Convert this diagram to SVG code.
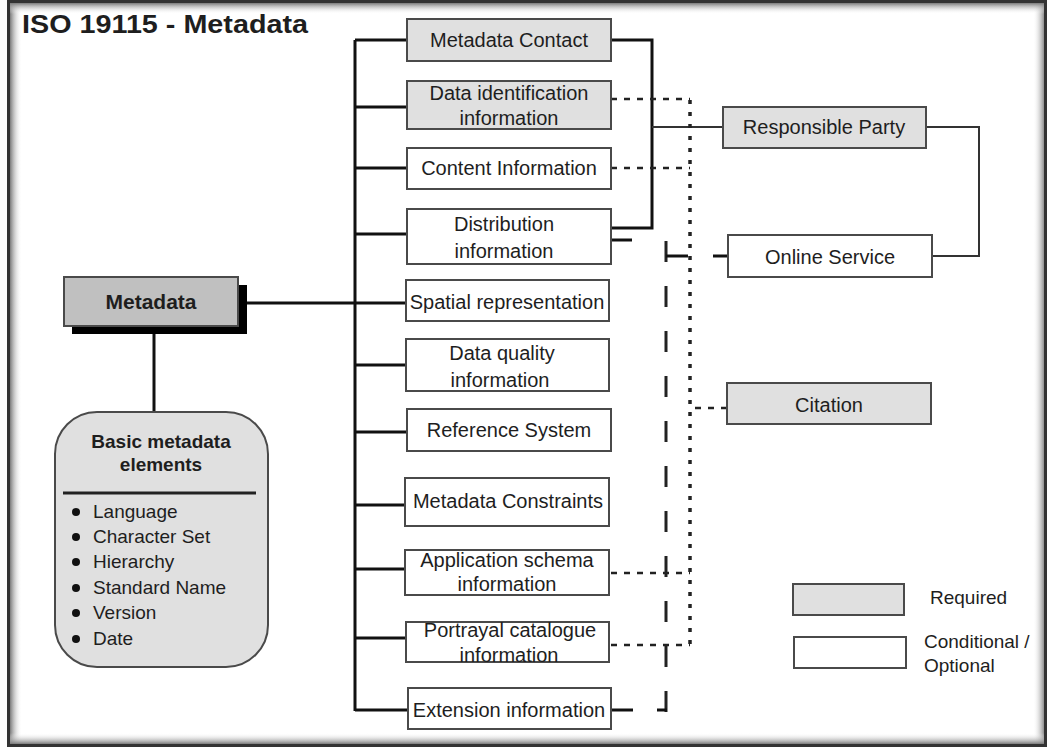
<svg xmlns="http://www.w3.org/2000/svg" width="1047" height="747" viewBox="0 0 1047 747">
<defs>
<linearGradient id="gL" x1="0" y1="0" x2="1" y2="0"><stop offset="0" stop-color="#7a7a7a"/><stop offset="1" stop-color="#ffffff" stop-opacity="0"/></linearGradient>
<linearGradient id="gR" x1="1" y1="0" x2="0" y2="0"><stop offset="0" stop-color="#7a7a7a"/><stop offset="1" stop-color="#ffffff" stop-opacity="0"/></linearGradient>
<linearGradient id="gT" x1="0" y1="0" x2="0" y2="1"><stop offset="0" stop-color="#7a7a7a"/><stop offset="1" stop-color="#ffffff" stop-opacity="0"/></linearGradient>
<linearGradient id="gB" x1="0" y1="1" x2="0" y2="0"><stop offset="0" stop-color="#7a7a7a"/><stop offset="1" stop-color="#ffffff" stop-opacity="0"/></linearGradient>
<style>
.t{font-family:"Liberation Sans",Arial,sans-serif;font-size:20px;fill:#1e1e1e;text-anchor:middle}
.b{font-weight:bold}
.s{text-anchor:start}
.req{fill:#e0e0e0;stroke:#4a4a4a;stroke-width:2}
.opt{fill:#ffffff;stroke:#4a4a4a;stroke-width:2}
.solid{fill:none;stroke:#111;stroke-width:3}
.thin{fill:none;stroke:#333;stroke-width:2}
.dash{fill:none;stroke:#222;stroke-width:2.5;stroke-dasharray:6 7}
.dot{fill:none;stroke:#222;stroke-width:3.5;stroke-dasharray:4 8}
.long{fill:none;stroke:#222;stroke-width:3;stroke-dasharray:21 24}
</style>
</defs>
<rect x="0" y="0" width="1047" height="747" fill="#ffffff"/>
<g id="frame">
<rect x="10" y="3" width="12" height="741" fill="url(#gL)"/>
<rect x="1033" y="3" width="12" height="741" fill="url(#gR)"/>
<rect x="10" y="3" width="1035" height="11" fill="url(#gT)"/>
<rect x="10" y="733" width="1035" height="11" fill="url(#gB)"/>
<rect x="8.5" y="1.5" width="1037" height="744" fill="none" stroke="#333" stroke-width="3"/>
</g>
<text class="t b s" x="22" y="33" style="font-size:26px" textLength="286" lengthAdjust="spacingAndGlyphs">ISO 19115 - Metadata</text>

<g id="connectors">
<path class="solid" d="M355 40 V711"/>
<path class="solid" d="M355 40 H407 M355 107 H407 M355 168 H407 M355 234 H407 M355 365 H406 M355 432 H407 M355 505 H405 M355 569 H405 M355 638 H406 M355 710 H408"/>
<path class="solid" d="M247 303 H406" stroke-width="2.5"/>
<path class="solid" d="M154 334 V412"/>
<path class="solid" d="M611 40 H652 V228 H611"/>
<path class="thin" d="M652 127 H723"/>
<path class="thin" d="M926 127 H979 V256 H932"/>
<path class="solid" d="M713 256 H728" stroke-width="2.5"/>
<path class="solid" d="M611 240 H632" stroke-width="2.5"/>
<path class="solid" d="M611 710 H633" stroke-width="2.5"/>
<path class="long" d="M666 241 V712"/>
<path class="solid" d="M666 256 H688" stroke-width="2.5"/>
<path class="solid" d="M657 710 H667" stroke-width="2.5"/>
<path class="dot" d="M690 100 V645"/>
<path class="dash" d="M611 99 H690 M611 168 H690 M727 408 H690 M611 573 H690 M611 645 H690"/>
</g>

<g id="metadata">
<rect x="72" y="285" width="175" height="49" fill="#000"/>
<rect x="64" y="277" width="174" height="49" fill="#c0c0c0" stroke="#4a4a4a" stroke-width="2"/>
<text class="t b" x="151" y="309" style="font-size:21px">Metadata</text>
</g>

<g id="basic">
<rect x="55" y="412" width="213" height="255" rx="42" ry="42" fill="#e0e0e0" stroke="#4a4a4a" stroke-width="2"/>
<text class="t b" x="161" y="448" style="font-size:19px">Basic metadata</text>
<text class="t b" x="161" y="471" style="font-size:19px">elements</text>
<line x1="63" y1="493" x2="256" y2="493" stroke="#222" stroke-width="3"/>
<g fill="#111">
<circle cx="76" cy="512" r="4"/><circle cx="76" cy="537" r="4"/><circle cx="76" cy="562" r="4"/>
<circle cx="76" cy="588" r="4"/><circle cx="76" cy="613" r="4"/><circle cx="76" cy="639" r="4"/>
</g>
<text class="t s" x="93" y="518" style="font-size:19px">Language</text>
<text class="t s" x="93" y="543" style="font-size:19px">Character Set</text>
<text class="t s" x="93" y="568" style="font-size:19px">Hierarchy</text>
<text class="t s" x="93" y="594" style="font-size:19px">Standard Name</text>
<text class="t s" x="93" y="619" style="font-size:19px">Version</text>
<text class="t s" x="93" y="645" style="font-size:19px">Date</text>
</g>

<g id="metadata-contact"><rect class="req" x="407" y="19" width="204" height="42"/><text class="t" x="509" y="47">Metadata Contact</text></g>
<g id="data-identification"><rect class="req" x="407" y="81" width="204" height="48"/><text class="t" x="509" y="100">Data identification</text><text class="t" x="509" y="125">information</text></g>
<g id="content-information"><rect class="opt" x="407" y="148" width="204" height="41"/><text class="t" x="509" y="175">Content Information</text></g>
<g id="distribution"><rect class="opt" x="407" y="209" width="204" height="55"/><text class="t" x="504" y="231">Distribution</text><text class="t" x="504" y="258">information</text></g>
<g id="spatial"><rect class="opt" x="406" y="280" width="203" height="41"/><text class="t" x="507" y="309">Spatial representation</text></g>
<g id="data-quality"><rect class="opt" x="406" y="339" width="203" height="52"/><text class="t" x="502" y="360">Data quality</text><text class="t" x="500" y="387">information</text></g>
<g id="reference-system"><rect class="opt" x="407" y="409" width="204" height="42"/><text class="t" x="509" y="437">Reference System</text></g>
<g id="metadata-constraints"><rect class="opt" x="405" y="478" width="204" height="48"/><text class="t" x="508" y="508">Metadata Constraints</text></g>
<g id="application-schema"><rect class="opt" x="405" y="550" width="204" height="45"/><text class="t" x="507" y="567">Application schema</text><text class="t" x="507" y="591">information</text></g>
<g id="portrayal-catalogue"><rect class="opt" x="406" y="622" width="203" height="40"/><text class="t" x="510" y="637">Portrayal catalogue</text><text class="t" x="509" y="662">information</text></g>
<g id="extension"><rect class="opt" x="408" y="688" width="203" height="41"/><text class="t" x="509" y="717">Extension information</text></g>

<g id="responsible-party"><rect class="req" x="723" y="107" width="203" height="41"/><text class="t" x="824" y="134">Responsible Party</text></g>
<g id="online-service"><rect class="opt" x="728" y="235" width="204" height="42"/><text class="t" x="830" y="264">Online Service</text></g>
<g id="citation"><rect class="req" x="727" y="383" width="204" height="41"/><text class="t" x="829" y="412">Citation</text></g>

<g id="legend">
<rect class="req" x="793" y="584" width="111" height="31"/>
<text class="t s" x="930" y="604" style="font-size:19px">Required</text>
<rect class="opt" x="794" y="637" width="112" height="31"/>
<text class="t s" x="924" y="648" style="font-size:19px">Conditional /</text>
<text class="t s" x="924" y="672" style="font-size:19px">Optional</text>
</g>
</svg>
